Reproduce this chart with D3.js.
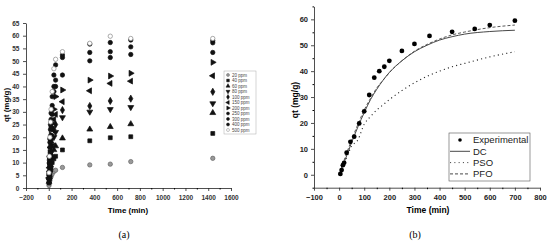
<!DOCTYPE html>
<html>
<head>
<meta charset="utf-8">
<title>kinetics</title>
<script src="https://d3js.org/d3.v7.min.js"></script>
<style>
body { margin: 0; background: #fff; }
svg { display: block; font-family: "Liberation Sans", Arial, sans-serif; }
</style>
</head>
<body>
<script>
// ---- left panel (a) data ----
var timesA = [2, 5, 10, 15, 20, 30, 45, 60, 120, 360, 540, 720, 1440];
var seriesNames = ["20 ppm", "40 ppm", "60 ppm", "80 ppm", "100 ppm", "150 ppm", "200 ppm", "250 ppm", "300 ppm", "400 ppm", "500 ppm"];
var q20  = [1, 2, 3, 4, 4.5, 5.5, 6.5, 7, 8.1, 9.1, 9.4, 10.4, 11.7];
var q40  = [2, 3.5, 5.5, 7, 8, 10, 11.5, 12.5, 15, 18.6, 19.8, 20.2, 21.5];
var q60  = [2.5, 4.5, 7, 9, 10.5, 12.5, 15, 16.5, 19.6, 23.1, 24.1, 25.2, 29.6];
var q80  = [3, 6, 9, 12, 14, 17, 20, 22, 27.8, 30, 31, 31.8, 33.3];
var q100 = [3.5, 7, 11, 14, 16.5, 20, 23, 25, 30.7, 32.3, 34.3, 35.2, 37.9];
var q150 = [4, 8, 12.5, 16, 19, 23, 27, 29, 34, 38.3, 41.2, 42.1, 44.2];
var q200 = [4.5, 9, 14, 18, 21, 25.5, 31, 36, 38.6, 42.5, 44.1, 45.2, 49.5];
var q250 = [5, 10, 16, 20.5, 24, 29, 38, 40, 44.5, 50.1, 51.4, 52.6, 53.4];
var q300 = [5.5, 11, 18, 23, 27, 32.5, 40, 42.5, 51.4, 53.4, 53.7, 55.6, 57.2];
var q400 = [6, 12, 19.5, 25, 29.5, 36, 44.5, 48.5, 52.4, 56.7, 57.3, 58.3, 58];
var q500 = [6, 12.5, 20, 26, 31, 38, 47, 50.7, 53.7, 57, 59.8, 58.9, 58.9];
var seriesA = [q20, q40, q60, q80, q100, q150, q200, q250, q300, q400, q500];

// ---- right panel (b) data ----
var timesExp = [5, 10, 15, 20, 30, 45, 60, 80, 100, 120, 140, 160, 180, 200, 250, 300, 360, 450, 540, 600, 700];
var qExp = [0.3, 1.8, 3.7, 4.6, 8.5, 12.7, 14.7, 19.8, 24.5, 30.8, 37.5, 40, 41.7, 44, 47.8, 50.5, 53.6, 55.2, 56.3, 57.8, 59.5];
var timesFit = [0, 25, 50, 75, 100, 125, 150, 175, 200, 250, 300, 350, 400, 450, 500, 600, 700];
var qDC  = [0, 6, 12.5, 18.5, 24, 29, 33, 36.5, 39.5, 44, 47.5, 50, 52, 53.3, 54.3, 55.3, 55.8];
var qPSO = [0, 5.5, 11, 13.5, 19.5, 22.5, 25, 27, 29, 32.5, 35.5, 38, 40, 41.7, 43, 45.5, 47.5];
var qPFO = [0, 7, 13.5, 19.5, 25, 29.5, 33.5, 36.5, 39.4, 44, 47.7, 50.3, 52.4, 54, 55.1, 56.8, 57.8];

var W = 550, H = 244;
var svg = d3.select("body").append("svg").attr("width", W).attr("height", H);

// ================= panel (a) =================
var xA = d3.scaleLinear().domain([-200, 1600]).range([26, 231]);
var yA = d3.scaleLinear().domain([0, 65]).range([188, 23]);

var axA = svg.append("g").attr("transform", "translate(0,188)")
	.call(d3.axisBottom(xA).tickValues(d3.range(-200, 1601, 200)).tickFormat(d3.format("d")).tickSize(3).tickSizeOuter(0));
svg.append("g").attr("transform", "translate(0,188)")
	.call(d3.axisBottom(xA).tickValues(d3.range(-100, 1600, 200)).tickSize(1.5).tickFormat(""))
	.select(".domain").remove();
var ayA = svg.append("g").attr("transform", "translate(26,0)")
	.call(d3.axisLeft(yA).tickValues(d3.range(0, 66, 5)).tickSize(3).tickSizeOuter(0));

[axA, ayA].forEach(function(g) {
	g.selectAll("text").attr("font-size", 6.5).attr("font-weight", "bold").attr("fill", "#333");
	g.selectAll("line,path").attr("stroke", "#222").attr("stroke-width", 0.8);
});
axA.selectAll("text").attr("dy", "0.9em");
ayA.selectAll("text").attr("dx", "-0.1em");

svg.append("text").attr("x", 128).attr("y", 213).attr("text-anchor", "middle")
	.attr("font-size", 8).attr("font-weight", "bold").text("Time (min)");
svg.append("text").attr("transform", "translate(9,105) rotate(-90)").attr("text-anchor", "middle")
	.attr("font-size", 8).attr("font-weight", "bold").text("qt (mg/g)");
svg.append("text").attr("x", 124).attr("y", 238).attr("text-anchor", "middle")
	.attr("font-family", "'Liberation Serif', serif").attr("font-size", 10).text("(a)");

var shapes = [
	{t: d3.symbolCircle, r: 0, fill: "#999", stroke: "#666"},
	{t: d3.symbolSquare, r: 0, fill: "#111", stroke: "#111"},
	{t: d3.symbolTriangle, r: 0, fill: "#111", stroke: "#111"},
	{t: d3.symbolTriangle, r: 180, fill: "#111", stroke: "#111"},
	{t: d3.symbolDiamond, r: 0, fill: "#111", stroke: "#111"},
	{t: d3.symbolTriangle, r: -90, fill: "#111", stroke: "#111"},
	{t: d3.symbolTriangle, r: 90, fill: "#111", stroke: "#111"},
	{t: d3.symbolCircle, r: 0, fill: "#111", stroke: "#111"},
	{t: d3.symbolCircle, r: 0, fill: "#111", stroke: "#111"},
	{t: d3.symbolCircle, r: 0, fill: "#111", stroke: "#111"},
	{t: d3.symbolCircle, r: 0, fill: "#fff", stroke: "#888"}
];

seriesA.forEach(function(vals, i) {
	var s = shapes[i];
	svg.append("g").selectAll("path").data(vals).enter().append("path")
		.attr("d", d3.symbol().type(s.t).size(15))
		.attr("transform", function(d, j) { return "translate(" + xA(timesA[j]) + "," + yA(d) + ") rotate(" + s.r + ")"; })
		.attr("fill", s.fill).attr("stroke", s.stroke).attr("stroke-width", 0.7);
});

// legend (a)
var legA = svg.append("g").attr("transform", "translate(224,71)");
legA.append("rect").attr("width", 32).attr("height", 63).attr("fill", "#fff").attr("stroke", "#aaa").attr("stroke-width", 0.5);
seriesNames.forEach(function(n, i) {
	var s = shapes[i];
	var yy = 4 + i * 5.5;
	legA.append("path").attr("d", d3.symbol().type(s.t).size(7))
		.attr("transform", "translate(4," + yy + ") rotate(" + s.r + ")")
		.attr("fill", s.fill).attr("stroke", s.stroke).attr("stroke-width", 0.5);
	legA.append("text").attr("x", 8).attr("y", yy + 1.6).attr("font-size", 4.5).attr("fill", "#444").text(n);
});

// ================= panel (b) =================
var xB = d3.scaleLinear().domain([-100, 800]).range([314, 540]);
var yB = d3.scaleLinear().domain([-5, 65]).range([187.7, 6.4]);

var axB = svg.append("g").attr("transform", "translate(0,187.7)")
	.call(d3.axisBottom(xB).tickValues(d3.range(-100, 801, 100)).tickSize(3).tickSizeOuter(0));
svg.append("g").attr("transform", "translate(0,187.7)")
	.call(d3.axisBottom(xB).tickValues(d3.range(-50, 800, 100)).tickSize(1.5).tickFormat(""))
	.select(".domain").remove();
var ayB = svg.append("g").attr("transform", "translate(314,0)")
	.call(d3.axisLeft(yB).tickValues(d3.range(0, 61, 10)).tickSize(3).tickSizeOuter(0));
svg.append("g").attr("transform", "translate(314,0)")
	.call(d3.axisLeft(yB).tickValues(d3.range(-5, 66, 10)).tickSize(1.5).tickFormat(""))
	.select(".domain").remove();

[axB, ayB].forEach(function(g) {
	g.selectAll("text").attr("font-size", 7.5).attr("font-weight", "bold").attr("fill", "#222");
	g.selectAll("line,path").attr("stroke", "#222").attr("stroke-width", 0.8);
});
axB.selectAll("text").attr("dy", "0.9em");

svg.append("text").attr("x", 428).attr("y", 213).attr("text-anchor", "middle")
	.attr("font-size", 8.5).attr("font-weight", "bold").text("Time (min)");
svg.append("text").attr("transform", "translate(298,100) rotate(-90)").attr("text-anchor", "middle")
	.attr("font-size", 8.5).attr("font-weight", "bold").text("qt (mg/g)");
svg.append("text").attr("x", 415).attr("y", 238).attr("text-anchor", "middle")
	.attr("font-family", "'Liberation Serif', serif").attr("font-size", 10).text("(b)");

var lineB = function(vals) {
	return d3.line().curve(d3.curveMonotoneX)
		.x(function(d, j) { return xB(timesFit[j]); })
		.y(function(d) { return yB(d); })(vals);
};
svg.append("path").attr("d", lineB(qDC)).attr("fill", "none").attr("stroke", "#333").attr("stroke-width", 0.9);
svg.append("path").attr("d", lineB(qPSO)).attr("fill", "none").attr("stroke", "#222").attr("stroke-width", 1.1).attr("stroke-dasharray", "1.1,3.2");
svg.append("path").attr("d", lineB(qPFO)).attr("fill", "none").attr("stroke", "#444").attr("stroke-width", 0.9).attr("stroke-dasharray", "3,2");

svg.append("g").selectAll("circle").data(qExp).enter().append("circle")
	.attr("cx", function(d, j) { return xB(timesExp[j]); })
	.attr("cy", function(d) { return yB(d); })
	.attr("r", 2.4).attr("fill", "#000");

// legend (b)
var legB = svg.append("g").attr("transform", "translate(449,133)");
legB.append("rect").attr("width", 81).attr("height", 48).attr("fill", "#fff").attr("stroke", "#555").attr("stroke-width", 0.6);
var legItems = [
	{n: "Experimental", k: "dot"},
	{n: "DC", k: "solid"},
	{n: "PSO", k: "dotted"},
	{n: "PFO", k: "dashed"}
];
legItems.forEach(function(it, i) {
	var yy = 7 + i * 11.3;
	if (it.k === "dot") {
		legB.append("circle").attr("cx", 11).attr("cy", yy).attr("r", 1.8).attr("fill", "#000");
	} else {
		legB.append("line").attr("x1", 1).attr("x2", 21).attr("y1", yy).attr("y2", yy)
			.attr("stroke", "#333").attr("stroke-width", 0.9)
			.attr("stroke-dasharray", it.k === "dotted" ? "1.1,3.2" : (it.k === "dashed" ? "3,2" : null));
	}
	legB.append("text").attr("x", 24).attr("y", yy + 3.3).attr("font-size", 9.5).attr("fill", "#222").text(it.n);
});
</script>
</body>
</html>
